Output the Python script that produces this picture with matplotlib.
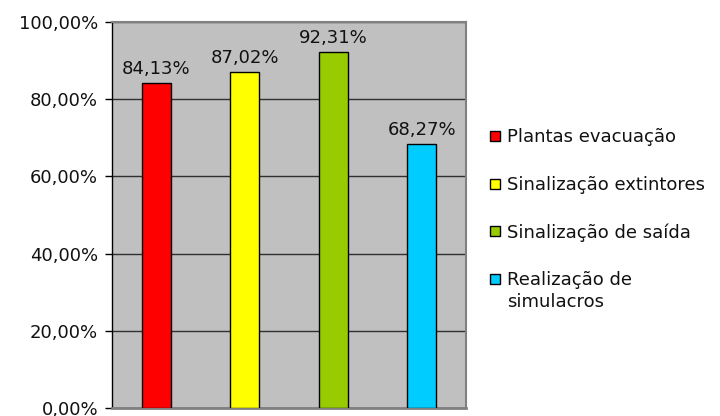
import matplotlib
matplotlib.use("Agg")
import matplotlib.pyplot as plt
from matplotlib.patches import Rectangle
from matplotlib.ticker import FuncFormatter, MultipleLocator

categories = ["Plantas evacuação", "Sinalização extintores", "Sinalização de saída", "Realização de\nsimulacros"]
values = [84.13, 87.02, 92.31, 68.27]
colors = ["#ff0000", "#ffff00", "#99cc00", "#00ccff"]

plt.rcParams["font.family"] = ["DejaVu Sans"]
fs = 13
W, H = 720, 416

fig = plt.figure(figsize=(W / 100, H / 100), dpi=100)
ax = fig.add_axes([112 / W, 1 - 408 / H, 354 / W, 386 / H])
ax.set_facecolor("#c0c0c0")

x = list(range(len(values)))
ax.bar(x, values, width=0.33, color=colors, edgecolor="black", linewidth=1.0, zorder=3)
for xi, v in zip(x, values):
    ax.text(xi, v + 1.3, f"{v:.2f}%".replace(".", ","), ha="center", va="bottom",
            fontsize=fs, color="#111111", zorder=4)

ax.set_xlim(-0.5, len(values) - 0.5)
ax.set_ylim(0, 100)
ax.yaxis.set_major_locator(MultipleLocator(20))
ax.yaxis.set_major_formatter(FuncFormatter(lambda v, p: f"{v:.2f}%".replace(".", ",")))
ax.tick_params(axis="y", labelsize=fs, labelcolor="#111111", length=5, width=1,
               color="black", direction="out", pad=5)
ax.set_xticks([])
ax.yaxis.grid(True, color="#303030", linewidth=1.0, zorder=1)
ax.set_axisbelow(True)

ax.spines["left"].set_color("black")
ax.spines["left"].set_linewidth(1.0)
ax.spines["bottom"].set_color("#808080")
ax.spines["bottom"].set_linewidth(2.0)
ax.spines["top"].set_color("#808080")
ax.spines["top"].set_linewidth(1.5)
ax.spines["right"].set_color("#808080")
ax.spines["right"].set_linewidth(1.5)

# legend on the right: square swatch + label per category,
# swatch aligned with the first line of a wrapped label
row0, row_step, line_step = 136, 47.5, 22
sw = 10
for i, (label, c) in enumerate(zip(categories, colors)):
    yc = row0 + row_step * i
    fig.add_artist(Rectangle((490 / W, 1 - (yc + sw / 2) / H), sw / W, sw / H,
                             facecolor=c, edgecolor="black", linewidth=1.0,
                             transform=fig.transFigure))
    for j, line in enumerate(label.split("\n")):
        fig.text(507 / W, 1 - (yc + 6.5 + line_step * j) / H, line, ha="left",
                 va="baseline", fontsize=fs, color="#111111")

fig.savefig("out.png", dpi=100)
